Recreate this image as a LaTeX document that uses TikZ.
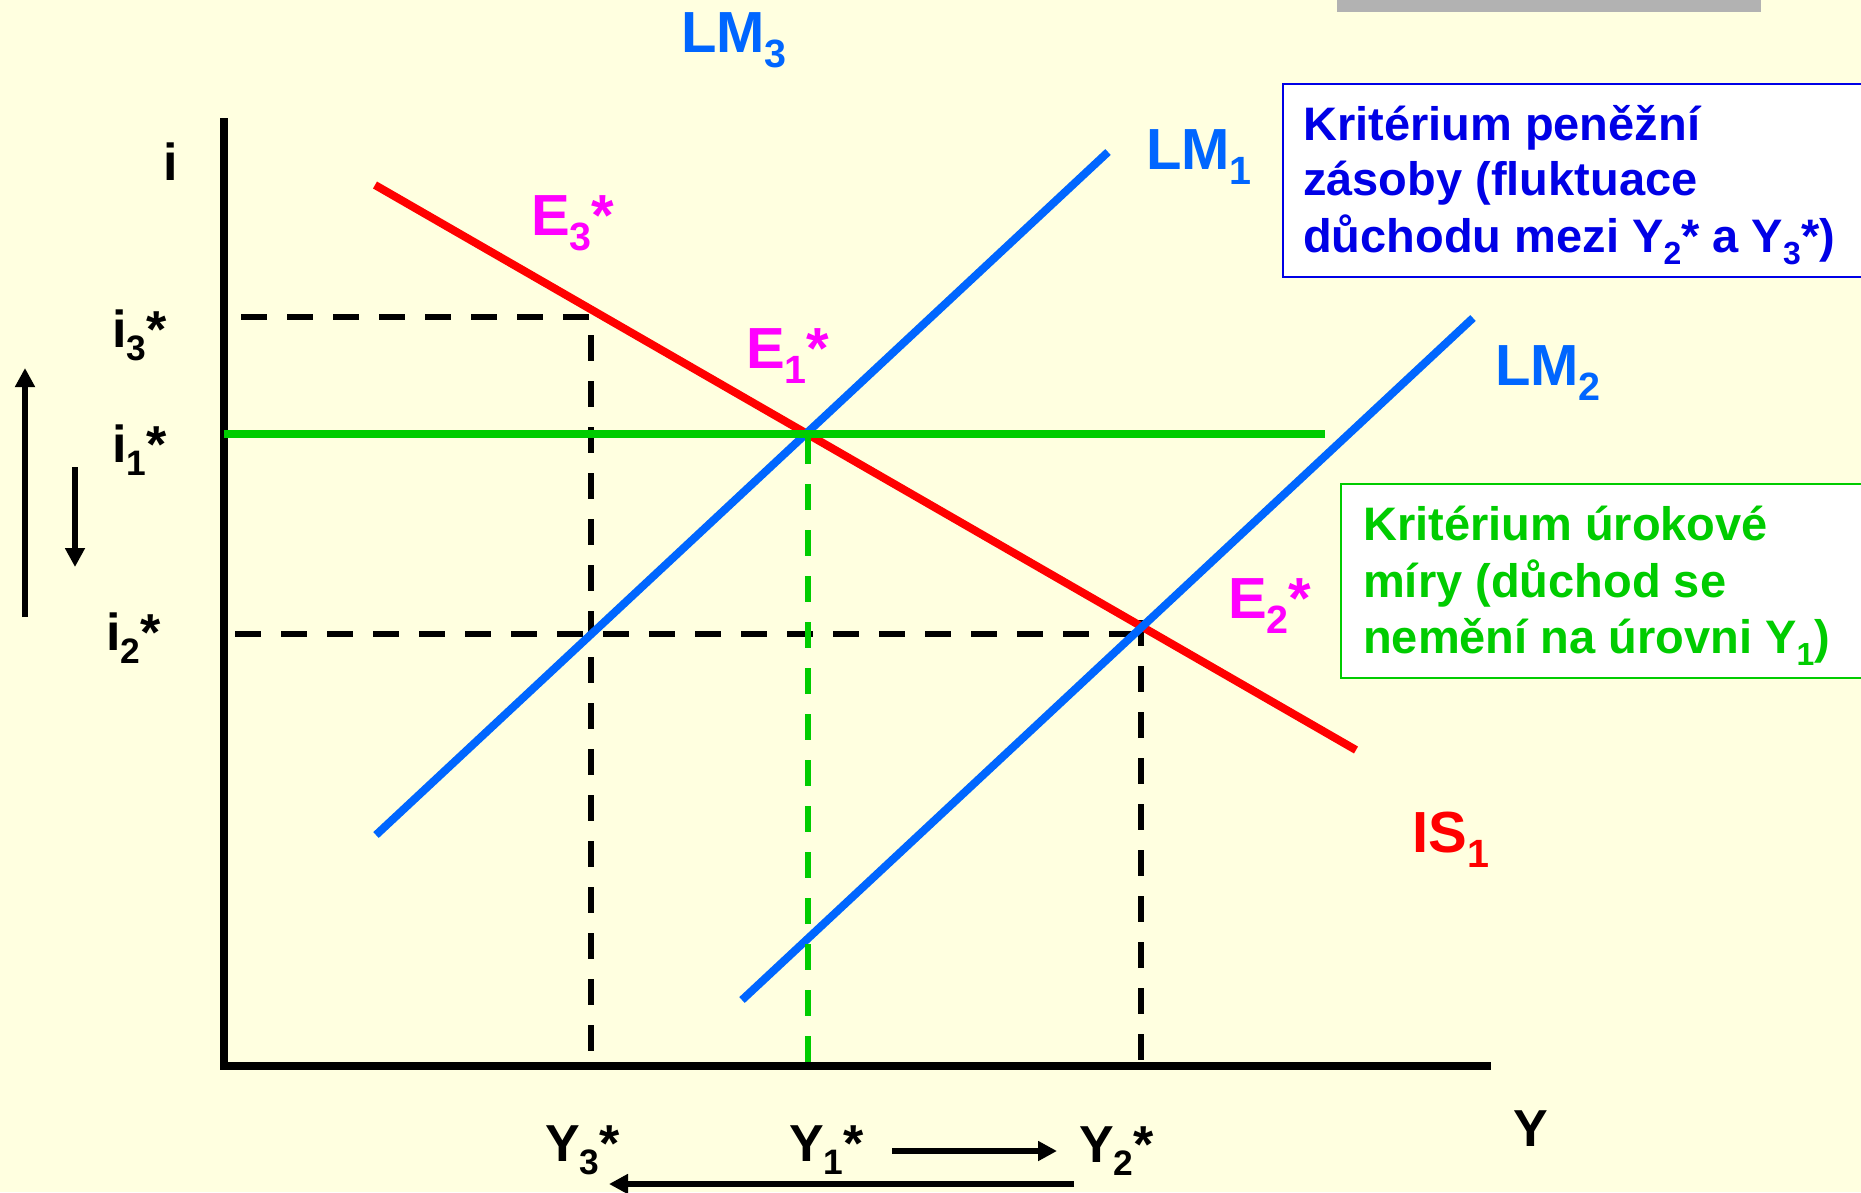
\documentclass[tikz,border=0pt]{standalone}
\usepackage{fontspec}
\setmainfont{Liberation Sans}
\usetikzlibrary{arrows.meta}
\definecolor{bgc}{HTML}{FFFFE0}
\definecolor{lmblue}{HTML}{0066FF}
\definecolor{boxblue}{HTML}{0000E6}
\definecolor{isred}{HTML}{FF0000}
\definecolor{ggreen}{HTML}{00CC00}
\definecolor{emag}{HTML}{FF00FF}
\definecolor{barg}{HTML}{B2B2B2}
\makeatletter
\newcommand\sbs[1]{\raisebox{-0.26em}{\fontsize{\dimexpr0.68\dimexpr\f@size pt\relax\relax}{0pt}\selectfont #1}}
\makeatother
\newcommand\fbig{\fontsize{58}{70}\selectfont\bfseries}
\newcommand\fax{\fontsize{52}{62}\selectfont\bfseries}
\newcommand\fboxtxt{\fontsize{47}{56}\selectfont\bfseries}
\tikzset{
  lab/.style={inner sep=0pt, anchor=base west},
  curve/.style={line width=8pt},
  dashln/.style={line width=6.8pt, dash pattern=on 26pt off 20pt},
  arr/.style={line width=6.5pt, -{Triangle[length=19pt,width=19pt]}},
  infobox/.style={line width=2.5pt, fill=white},
}
\begin{document}
\begin{tikzpicture}[x=1pt,y=-1pt]
\useasboundingbox (0,0) rectangle (1861,1192);
\fill[bgc] (0,0) rectangle (1861,1192);
\fill[barg] (1337,0) rectangle (1761,12);

% coordinates
\coordinate (ytop) at (224,118);
\coordinate (orig) at (224,1066);
\coordinate (xend) at (1491,1066);
\coordinate (h3a) at (241,317);
\coordinate (E3) at (591,317);
\coordinate (Y3) at (591,1066);
\coordinate (h2a) at (235,634);
\coordinate (h2b) at (1141,634);
\coordinate (v2a) at (1141,620);
\coordinate (Y2) at (1141,1066);
\coordinate (g1a) at (224,434);
\coordinate (g1b) at (1325,434);
\coordinate (E1) at (808,438);
\coordinate (Y1) at (808,1066);
\coordinate (isa) at (375,185);
\coordinate (isb) at (1356,750);
\coordinate (lm1a) at (376,835);
\coordinate (lm1b) at (1108,152);
\coordinate (lm2a) at (742,1000);
\coordinate (lm2b) at (1473,318);

% black dashed guides
\draw[dashln] (h3a) -- (E3) -- (Y3);
\draw[dashln] (h2a) -- (h2b);
\draw[dashln] (v2a) -- (Y2);

% axes
\draw[line width=8.5pt, line join=miter] (ytop) -- (orig) -- (xend);

% curves
\draw[curve, isred] (isa) -- (isb);
\draw[curve, lmblue] (lm1a) -- (lm1b);
\draw[curve, lmblue] (lm2a) -- (lm2b);
\draw[dashln, ggreen] (E1) -- (Y1);
\draw[curve, line width=8.5pt, ggreen] (g1a) -- (g1b);

% side arrows
\coordinate (ua0) at (25,617);
\coordinate (ua1) at (25,368);
\coordinate (da0) at (75,467);
\coordinate (da1) at (75,567);
\draw[arr] (ua0) -- (ua1);
\draw[arr] (da0) -- (da1);
\coordinate (ra0) at (892,1151);
\coordinate (ra1) at (1057,1151);
\coordinate (la0) at (1074,1184);
\coordinate (la1) at (609,1184);
\draw[arr] (ra0) -- (ra1);
\draw[arr] (la0) -- (la1);

% labels
\node[lab, text=lmblue, font=\fbig] (tLM3) at (681,52) {LM\sbs{3}};
\node[lab, text=lmblue, font=\fbig] (tLM1) at (1146,169) {LM\sbs{1}};
\node[lab, text=lmblue, font=\fbig] (tLM2) at (1495,385) {LM\sbs{2}};
\node[lab, text=emag, font=\fbig] (tE3) at (531,235) {E\sbs{3}*};
\node[lab, text=emag, font=\fbig] (tE1) at (746,368) {E\sbs{1}*};
\node[lab, text=emag, font=\fbig] (tE2) at (1228,618) {E\sbs{2}*};
\node[lab, text=isred, font=\fbig] (tIS) at (1412,852) {IS\sbs{1}};
\node[lab, font=\fax] (ti) at (163,180) {i};
\node[lab, font=\fax] (ti3) at (112,347) {i\sbs{3}*};
\node[lab, font=\fax] (ti1) at (112,462) {i\sbs{1}*};
\node[lab, font=\fax] (ti2) at (106,650) {i\sbs{2}*};
\node[lab, font=\fax] (tY) at (1513,1146) {Y};
\node[lab, font=\fax] (tY3) at (545,1161) {Y\sbs{3}*};
\node[lab, font=\fax] (tY1) at (789,1161) {Y\sbs{1}*};
\node[lab, font=\fax] (tY2) at (1079,1162) {Y\sbs{2}*};

% info boxes
\draw[infobox, draw=boxblue] (1283,84) rectangle (1900,277);
\node[lab, text=boxblue, font=\fboxtxt] (b1) at (1303,140) {Kritérium peněžní};
\node[lab, text=boxblue, font=\fboxtxt] (b2) at (1303,195) {zásoby (fluktuace};
\node[lab, text=boxblue, font=\fboxtxt] (b3) at (1303,252) {důchodu mezi Y\sbs{2}* a Y\sbs{3}*)};

\draw[infobox, draw=ggreen] (1341,484) rectangle (1900,678);
\node[lab, text=ggreen, font=\fboxtxt] (g1) at (1363,540) {Kritérium úrokové};
\node[lab, text=ggreen, font=\fboxtxt] (g2) at (1363,597) {míry (důchod se};
\node[lab, text=ggreen, font=\fboxtxt] (g3) at (1363,653) {nemění na úrovni Y\sbs{1})};
\end{tikzpicture}
\end{document}
